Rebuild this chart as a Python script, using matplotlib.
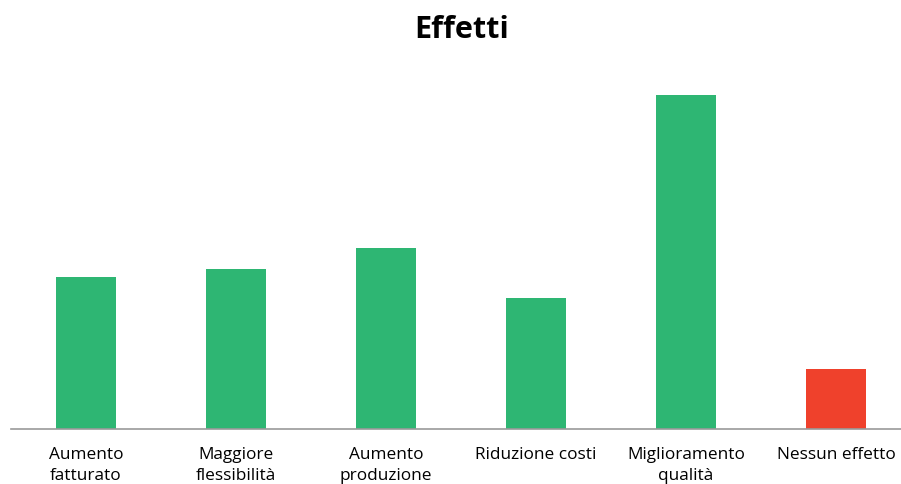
import matplotlib.pyplot as plt

categories = ["Aumento\nfatturato", "Maggiore\nflessibilità", "Aumento\nproduzione",
              "Riduzione costi", "Miglioramento\nqualità", "Nessun effetto"]
values = [152, 160, 181, 131, 334, 60]
colors = ["#2eb673"] * 5 + ["#ef412c"]

plt.rcParams['font.family'] = ['Open Sans', 'DejaVu Sans']

fig = plt.figure(figsize=(9.01, 4.84), dpi=100)
# axis spans x=11..911 px, baseline at y=429, top at y=60
ax = fig.add_axes([11 / 901, 1 - 429 / 484, 900 / 901, 369 / 484])

x = range(len(categories))
ax.bar(x, values, width=0.4, color=colors)
ax.set_xlim(-0.5, 5.5)
ax.set_ylim(0, 369)

for side in ["top", "right", "left"]:
    ax.spines[side].set_visible(False)
ax.spines["bottom"].set_color("#9a9a9a")
ax.spines["bottom"].set_linewidth(1.2)
ax.set_yticks([])
ax.set_xticks(list(x))
ax.set_xticklabels(categories, fontsize=12.4, linespacing=1.45)
ax.tick_params(axis="x", length=0, pad=13)

fig.text(462 / 901, 1 - 30 / 484, "Effetti", ha="center", va="center",
         fontsize=22, fontweight="bold")

fig.savefig("out.png", dpi=100)
